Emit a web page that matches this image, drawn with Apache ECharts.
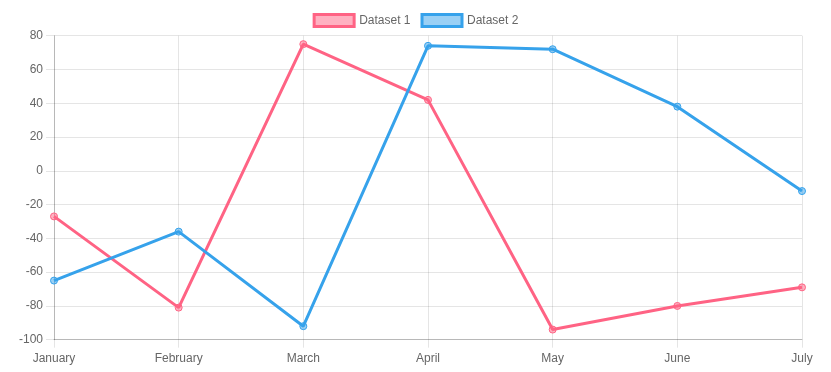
<!DOCTYPE html>
<html>
<head>
<meta charset="utf-8">
<script src="https://cdn.jsdelivr.net/npm/echarts@6/dist/echarts.min.js"></script>
<style>html,body{margin:0;padding:0;background:#fff}#c{width:831px;height:372px}</style>
</head>
<body>
<div id="c"></div>
<script>
var categories = ['January', 'February', 'March', 'April', 'May', 'June', 'July'];
var dataset1 = [-27, -81, 75, 42, -94, -80, -69];
var dataset2 = [-65, -36, -92, 74, 72, 38, -12];
var seriesNames = ['Dataset 1', 'Dataset 2'];
var yMin = -100, yMax = 80, yStep = 20;

var FONT = '"Helvetica Neue", Helvetica, Arial, "Liberation Sans", sans-serif';
var red = 'rgb(255, 99, 132)', redA = 'rgba(255, 99, 132, 0.5)';
var blue = 'rgb(54, 162, 235)', blueA = 'rgba(54, 162, 235, 0.5)';
var gridColor = 'rgba(0,0,0,0.1)';
var axisColor = 'rgba(0,0,0,0.2)';

var chart = echarts.init(document.getElementById('c'), null, {renderer: 'canvas'});
chart.setOption({
  animation: false,
  textStyle: {fontFamily: FONT},
  legend: {
    top: 8,
    left: 'center',
    itemWidth: 40,
    itemHeight: 12,
    itemGap: 10,
    textStyle: {color: '#666', fontSize: 12, fontFamily: FONT},
    data: [
      {name: seriesNames[0], icon: 'rect', itemStyle: {color: redA, borderColor: red, borderWidth: 3}},
      {name: seriesNames[1], icon: 'rect', itemStyle: {color: blueA, borderColor: blue, borderWidth: 3}}
    ]
  },
  grid: {left: 54, right: 29, top: 35.7, bottom: 32.3, containLabel: false},
  xAxis: {
    type: 'category',
    data: categories,
    boundaryGap: false,
    axisLine: {show: true, onZero: false, lineStyle: {color: axisColor, width: 1}},
    axisTick: {show: true, alignWithLabel: true, length: 8, lineStyle: {color: gridColor}},
    splitLine: {show: true, lineStyle: {color: gridColor, width: 1}},
    axisLabel: {color: '#666', fontSize: 12, margin: 13, fontFamily: FONT}
  },
  yAxis: {
    type: 'value',
    min: yMin,
    max: yMax,
    interval: yStep,
    axisLine: {show: true, lineStyle: {color: axisColor, width: 1}},
    axisTick: {show: true, length: 8, lineStyle: {color: gridColor}},
    splitLine: {show: true, lineStyle: {color: gridColor, width: 1}},
    axisLabel: {color: '#666', fontSize: 12, margin: 11, fontFamily: FONT}
  },
  series: [
    {
      name: seriesNames[0], type: 'line', data: dataset1, smooth: false,
      symbol: 'circle', symbolSize: 7, showAllSymbol: true,
      lineStyle: {color: red, width: 3},
      itemStyle: {color: redA, borderColor: red, borderWidth: 1}
    },
    {
      name: seriesNames[1], type: 'line', data: dataset2, smooth: false,
      symbol: 'circle', symbolSize: 7, showAllSymbol: true,
      lineStyle: {color: blue, width: 3},
      itemStyle: {color: blueA, borderColor: blue, borderWidth: 1}
    }
  ]
});
</script>
</body>
</html>
